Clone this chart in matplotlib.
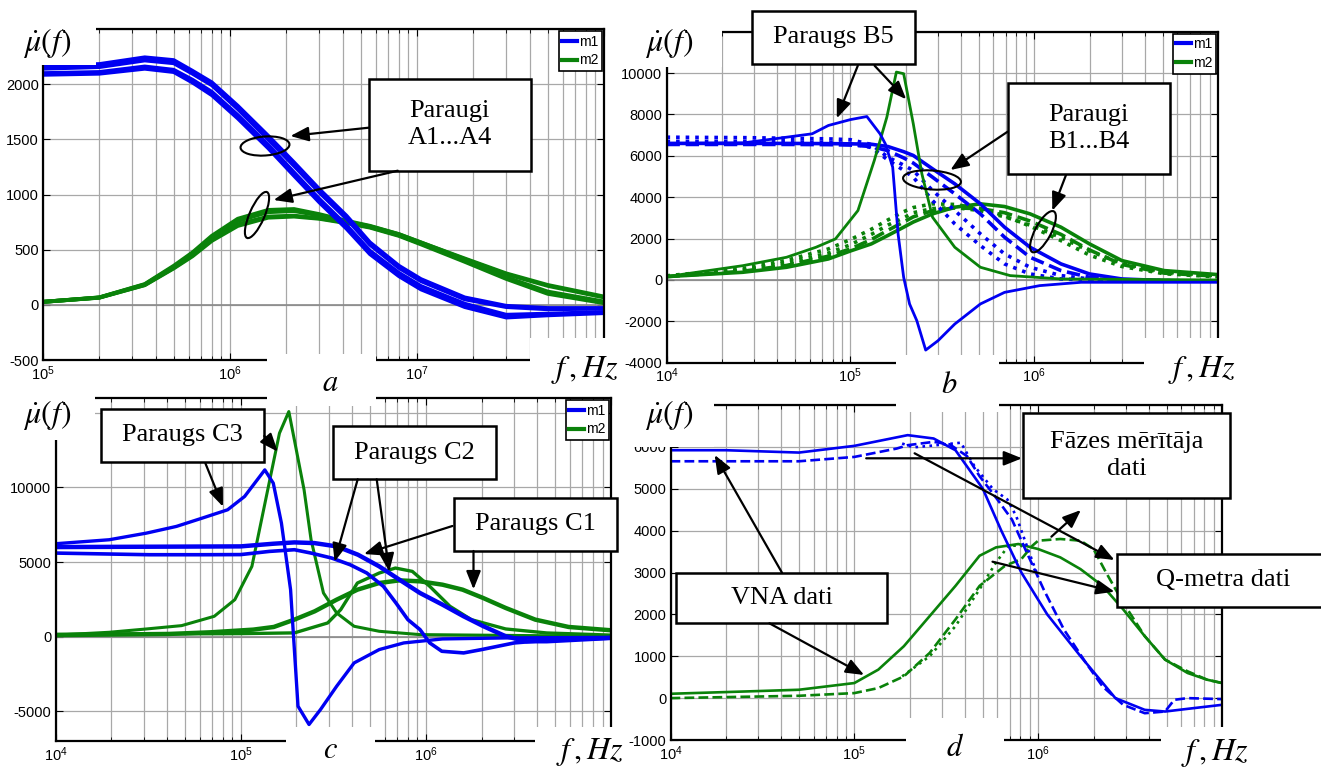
import numpy as np
import matplotlib
matplotlib.use("Agg")
import matplotlib.pyplot as plt
from matplotlib.patches import Rectangle, Ellipse
from matplotlib.ticker import LogLocator, NullFormatter

plt.rcParams["font.family"] = ["Liberation Sans", "DejaVu Sans"]
plt.rcParams["mathtext.fontset"] = "stix"
plt.rcParams["axes.unicode_minus"] = False

BLUE  = "#0000f2"
GREEN = "#0a820a"
W, H  = 1321, 769

# ---------------- panel a : Paraugi A1...A4 ----------------
A_F  = [1e5, 2e5, 3.5e5, 5e5, 6.3e5, 8e5, 1.1e6, 1.6e6, 2.2e6, 3e6,
        4.2e6, 5.6e6, 8e6, 1.05e7, 1.8e7, 3e7, 5e7, 1e8]
A1_M1 = [2168, 2182, 2243, 2218, 2121, 2016, 1804, 1532, 1291, 1049, 807, 566, 354, 233, 67, -9, -29, -29]
A2_M1 = [2140, 2155, 2215, 2190, 2095, 1990, 1775, 1500, 1260, 1020, 780, 545, 335, 215, 50, -20, -40, -35]
A3_M1 = [2100, 2110, 2160, 2130, 2040, 1930, 1720, 1450, 1200, 960, 720, 490, 290, 170, 10, -90, -80, -65]
A4_M1 = [2085, 2095, 2140, 2110, 2015, 1900, 1690, 1420, 1170, 930, 690, 460, 260, 140, -20, -115, -95, -75]
A1_M2 = [27, 67, 188, 354, 475, 626, 780, 860, 868, 822, 762, 716, 641, 566, 414, 278, 172, 67]
A2_M2 = [27, 67, 185, 345, 465, 610, 760, 840, 850, 810, 755, 712, 640, 565, 420, 285, 180, 75]
A3_M2 = [27, 65, 180, 335, 450, 590, 730, 800, 808, 785, 745, 705, 630, 555, 400, 250, 120, 30]
A4_M2 = [27, 65, 178, 330, 440, 580, 715, 790, 800, 780, 740, 700, 625, 548, 390, 235, 100, 15]

# ---------------- panel b : Paraugi B1...B4 + Paraugs B5 ----------------
B_F  = [1e4, 2.6e4, 4.5e4, 7.6e4, 1e5, 1.3e5, 1.6e5, 1.95e5, 2.2e5, 2.8e5,
        3.7e5, 5.1e5, 6.9e5, 9.5e5, 1.4e6, 2e6, 3e6, 5.1e6, 1e7]
B1_M1 = [6600, 6600, 6600, 6590, 6580, 6560, 6450, 6200, 6017, 5371, 4645, 3678, 2549, 1580, 774, 290, 48, -32, -60]
B2_M1 = [6550, 6550, 6550, 6540, 6520, 6450, 6250, 5900, 5650, 4968, 4162, 3194, 2065, 1097, 452, 129, 0, -40, -60]
B3_M1 = [6900, 6880, 6850, 6820, 6780, 6550, 5936, 5550, 5290, 4323, 3355, 2226, 1258, 613, 210, 48, 0, -30, -60]
B4_M1 = [6700, 6700, 6680, 6650, 6600, 6400, 5800, 5300, 4968, 3839, 2710, 1661, 774, 290, 48, 0, -20, -40, -60]
B1_M2 = [161, 371, 613, 1016, 1400, 1742, 2150, 2549, 2800, 3194, 3516, 3678, 3549, 3194, 2549, 1742, 936, 452, 258]
B2_M2 = [161, 420, 700, 1150, 1500, 1950, 2400, 2800, 3050, 3350, 3480, 3450, 3250, 2850, 2200, 1450, 750, 330, 180]
B3_M2 = [200, 550, 950, 1500, 1950, 2450, 2900, 3300, 3500, 3680, 3650, 3450, 3100, 2600, 1900, 1200, 650, 300, 150]
B4_M2 = [180, 480, 820, 1300, 1700, 2200, 2650, 3000, 3250, 3450, 3500, 3350, 3050, 2650, 2050, 1400, 800, 380, 200]

B5_M1_F = [1e4, 2.6e4, 4.5e4, 6.2e4, 7.6e4, 1e5, 1.23e5, 1.45e5, 1.55e5, 1.7e5, 1.82e5,
           1.95e5, 2.1e5, 2.3e5, 2.57e5, 3e5, 3.7e5, 5.1e5, 6.9e5, 1.07e6, 1.8e6, 1e7]
B5_M1   = [6600, 6620, 6900, 7065, 7468, 7750, 7900, 7065, 6580, 5450, 2200,
           130, -1160, -1970, -3390, -2935, -2130, -1160, -600, -275, -113, -113]
B5_M2_F = [1e4, 2.6e4, 4.5e4, 6.5e4, 8.3e4, 1.1e5, 1.35e5, 1.58e5, 1.78e5, 1.95e5,
           2.2e5, 2.45e5, 2.8e5, 3.7e5, 5.1e5, 7.4e5, 1.4e6, 1e7]
B5_M2   = [161, 690, 1097, 1580, 1984, 3355, 5775, 7870, 10049, 9970,
           7550, 5130, 3032, 1580, 613, 210, 48, 0]

# ---------------- panel c : Paraugs C1, C2, C3 ----------------
C3_M1_F = [1e4, 1.95e4, 3.1e4, 4.5e4, 6.2e4, 8.5e4, 1.05e5, 1.35e5, 1.5e5, 1.66e5, 1.86e5,
           1.95e5, 2.04e5, 2.34e5, 2.7e5, 3.3e5, 4.1e5, 5.6e5, 7.6e5, 1.23e6, 2.7e6, 1e7]
C3_M1   = [6228, 6495, 6940, 7390, 7946, 8504, 9397, 11180, 10290, 7611, 3147,
           -870, -4665, -5893, -4888, -3326, -1763, -870, -424, -156, -89, -50]
C3_M2_F = [1e4, 1.95e4, 3.1e4, 4.8e4, 7.2e4, 9.3e4, 1.15e5, 1.4e5, 1.62e5, 1.82e5,
           1.95e5, 2.2e5, 2.4e5, 2.8e5, 3.3e5, 4.1e5, 5.6e5, 9.3e5, 1e7]
C3_M2   = [100, 290, 513, 737, 1362, 2478, 4710, 9843, 13640, 15090,
           13190, 9843, 6495, 2924, 1585, 692, 357, 134, 20]
C2_M1_F = [1e4, 3.2e4, 6.3e4, 1e5, 1.43e5, 1.95e5, 2.4e5, 3.1e5, 3.9e5, 4.8e5, 5.9e5,
           6.9e5, 8e5, 9.3e5, 1.05e6, 1.22e6, 1.6e6, 2e6, 3e6, 4.5e6, 1e7]
C2_M1   = [5602, 5491, 5491, 5500, 5714, 5826, 5602, 5268, 4821, 4263, 3370,
           2254, 1138, 469, -424, -982, -1094, -870, -424, -246, -100]
C2_M2_F = [1e4, 1e5, 1.95e5, 2.95e5, 3.47e5, 4.27e5, 5.6e5, 6.85e5, 8.45e5,
           1.05e6, 1.35e6, 1.76e6, 2.7e6, 4.5e6, 1e7]
C2_M2   = [150, 200, 250, 915, 1808, 3594, 4263, 4598, 4375,
           3370, 2031, 1138, 513, 245, 100]
C1_M1_F = [1e4, 1e5, 1.5e5, 1.95e5, 2.5e5, 3.3e5, 4.3e5, 5.6e5, 7.2e5, 9.3e5,
           1.23e6, 1.6e6, 2.05e6, 2.7e6, 3.5e6, 4.5e6, 1e7]
C1_M1   = [6004, 6050, 6228, 6317, 6272, 6049, 5491, 4710, 3817, 2924,
           2143, 1362, 692, 22, -312, -312, -89]
C1_M2_F = [1e4, 4.1e4, 6.9e4, 1.17e5, 1.51e5, 1.95e5, 2.51e5, 3.3e5, 4.27e5, 5.6e5,
           7.2e5, 9.3e5, 1.23e6, 1.58e6, 2.04e6, 2.7e6, 3.9e6, 5.9e6, 1e7]
C1_M2   = [100, 179, 290, 469, 647, 1138, 1696, 2478, 3147, 3594,
           3772, 3705, 3482, 3147, 2589, 1920, 1138, 647, 424]

# ---------------- panel d : VNA / Q-metra / faze ----------------
D_VNA_M1_F = [1e4, 2e4, 5e4, 1e5, 1.95e5, 2.7e5, 3.55e5, 5e5, 6.3e5, 8.1e5,
              1.12e6, 1.7e6, 2.63e6, 3.8e6, 4.9e6, 6.5e6, 1e7]
D_VNA_M1   = [5920, 5920, 5864, 6024, 6280, 6200, 5920, 5000, 4000, 3000,
              2000, 1000, 0, -280, -320, -256, -160]
D_VNA_M2_F = [1e4, 2.6e4, 5e4, 1e5, 1.35e5, 1.86e5, 2.57e5, 3.55e5, 4.8e5, 5.9e5, 7.8e5,
              1e6, 1.32e6, 1.7e6, 2.24e6, 2.9e6, 3.8e6, 4.9e6, 6.5e6, 8.3e6, 1e7]
D_VNA_M2   = [104, 160, 200, 360, 680, 1240, 1960, 2680, 3400, 3600, 3680,
              3560, 3360, 3080, 2680, 2120, 1480, 920, 600, 440, 360]
D_Q_M1_F = [1e4, 5e4, 1e5, 1.7e5, 1.95e5, 2.7e5, 3.3e5, 4.1e5, 4.8e5, 6e5, 7.2e5,
            8.5e5, 1.07e6, 1.38e6, 1.82e6, 2.24e6, 2.9e6, 3.8e6, 4.9e6, 5.5e6, 6.5e6, 1e7]
D_Q_M1   = [5656, 5656, 5760, 5960, 6040, 6120, 6060, 5780, 5300, 4744, 4265,
            3560, 2600, 1640, 840, 280, -160, -360, -320, -40, 0, -24]
D_Q_M2_F = [1e4, 5e4, 1e5, 1.35e5, 1.86e5, 2.57e5, 3.55e5, 4.8e5, 6.6e5, 8.1e5, 9.3e5,
            1e6, 1.32e6, 1.7e6, 2e6, 2.34e6, 2.9e6, 3.8e6, 4.9e6, 6.5e6, 8.3e6, 1e7]
D_Q_M2   = [0, 56, 120, 240, 520, 1080, 1880, 2680, 3160, 3320, 3640,
            3760, 3800, 3760, 3560, 3000, 2280, 1480, 920, 640, 440, 360]
D_PH_M1_F = [1.82e5, 2.1e5, 2.8e5, 3.8e5, 4.5e5, 5.7e5, 6.8e5, 7.6e5, 8.9e5, 1e6]
D_PH_M1   = [6080, 5988, 6040, 6100, 5540, 4983, 4744, 4344, 3500, 2900]
D_PH_M2_F = [1.82e5, 2.57e5, 3.55e5, 4.8e5, 5.9e5, 6.9e5, 8.1e5, 9.1e5]
D_PH_M2   = [520, 1000, 1720, 2600, 3240, 3640, 3640, 3480]


fig = plt.figure(figsize=(W / 100, H / 100), dpi=100)


def make_axes(l, t, r, b, decades, ylim, yticks, hidden_y):
    """Axes placed by pixel box (left, top, right, bottom).
    Labels under the pasted-over corners of the original are left blank."""
    ax = fig.add_axes([l / W, 1 - b / H, (r - l) / W, (b - t) / H])
    ax.set_xscale("log")
    ax.set_xlim(10.0 ** decades[0], 10.0 ** decades[-1])
    ax.set_ylim(*ylim)
    ax.set_xticks([10.0 ** d for d in decades])
    ax.set_xticklabels([r"$\mathdefault{10^{%d}}$" % d for d in decades[:-1]] + [""])
    ax.set_yticks(yticks)
    ax.set_yticklabels(["" if v in hidden_y else str(v) for v in yticks])
    ax.xaxis.set_minor_locator(LogLocator(base=10, subs=np.arange(2, 10)))
    ax.xaxis.set_minor_formatter(NullFormatter())
    ax.grid(True, which="both", axis="x", color="#a8a8a8", lw=0.9)
    ax.grid(True, which="major", axis="y", color="#a8a8a8", lw=0.9)
    ax.set_axisbelow(True)
    ax.tick_params(which="both", direction="in", top=True, right=True,
                   labelsize=10.5, pad=3)
    ax.tick_params(which="major", length=5)
    ax.tick_params(which="minor", length=3)
    for s in ax.spines.values():
        s.set_linewidth(1.6)
    return ax


def add_legend(ax, h1, h2):
    leg = ax.legend([h1, h2], ["m1", "m2"], loc="upper right", fontsize=10,
                    handlelength=1.05, handletextpad=0.15, borderpad=0.25,
                    labelspacing=0.35, borderaxespad=0.15, fancybox=False,
                    framealpha=1, edgecolor="k")
    leg.get_frame().set_linewidth(1.2)
    for ln in leg.get_lines():
        ln.set_linewidth(3)


# ---- a ----
axa = make_axes(43, 29, 604, 360, [5, 6, 7, 8], (-500, 2500),
                list(range(-500, 2501, 500)), [2500])
axa.axhline(0, color="#8a8a8a", lw=1.2, zorder=1)
for v in (A1_M2, A2_M2, A3_M2, A4_M2):
    hg = axa.plot(A_F, v, color=GREEN, lw=2.8)[0]
for v in (A1_M1, A2_M1, A3_M1, A4_M1):
    hb = axa.plot(A_F, v, color=BLUE, lw=2.8)[0]
add_legend(axa, hb, hg)

# ---- b ----
axb = make_axes(666.5, 31.7, 1218, 362.7, [4, 5, 6, 7], (-4000, 12000),
                list(range(-4000, 12001, 2000)), [12000])
axb.axhline(0, color="#8a8a8a", lw=1.2, zorder=1)
styles = ["-", "--", ":", ":"]
for v, ls in zip((B1_M2, B2_M2, B3_M2, B4_M2), styles):
    hg = axb.plot(B_F, v, color=GREEN, lw=2.6, ls=ls)[0]
for v, ls in zip((B1_M1, B2_M1, B3_M1, B4_M1), styles):
    hb = axb.plot(B_F, v, color=BLUE, lw=2.6, ls=ls)[0]
axb.plot(B5_M2_F, B5_M2, color=GREEN, lw=2.0)
axb.plot(B5_M1_F, B5_M1, color=BLUE, lw=2.0)
add_legend(axb, axb.lines[5], axb.lines[1])

# ---- c ----
axc = make_axes(55.5, 398, 611, 741, [4, 5, 6, 7], (-7000, 16000),
                list(range(-5000, 15001, 5000)), [15000])
axc.axhline(0, color="#8a8a8a", lw=1.2, zorder=1)
axc.plot(C3_M2_F, C3_M2, color=GREEN, lw=2.2)
axc.plot(C2_M2_F, C2_M2, color=GREEN, lw=2.4)
hg = axc.plot(C1_M2_F, C1_M2, color=GREEN, lw=3.2)[0]
axc.plot(C3_M1_F, C3_M1, color=BLUE, lw=2.4)
axc.plot(C2_M1_F, C2_M1, color=BLUE, lw=2.6)
hb = axc.plot(C1_M1_F, C1_M1, color=BLUE, lw=3.2)[0]
add_legend(axc, hb, hg)

# ---- d ----
axd = make_axes(670.5, 405, 1222, 740, [4, 5, 6, 7], (-1000, 7000),
                list(range(-1000, 7001, 1000)), [7000])
axd.plot(D_VNA_M2_F, D_VNA_M2, color=GREEN, lw=1.9)
axd.plot(D_Q_M2_F, D_Q_M2, color=GREEN, lw=1.9, ls="--")
axd.plot(D_PH_M2_F, D_PH_M2, color=GREEN, lw=1.9, ls=":")
axd.plot(D_VNA_M1_F, D_VNA_M1, color=BLUE, lw=1.9)
axd.plot(D_Q_M1_F, D_Q_M1, color=BLUE, lw=1.9, ls="--")
axd.plot(D_PH_M1_F, D_PH_M1, color=BLUE, lw=1.9, ls=":")

# ---- overlay in pixel coordinates: white cut-outs, labels, boxes, arrows ----
ov = fig.add_axes([0, 0, 1, 1], zorder=10)
ov.set_xlim(0, W)
ov.set_ylim(H, 0)
ov.axis("off")

cutouts = [(0, 0, 96, 65), (267, 354, 376, 406), (530, 338, 621, 395),
           (615, 0, 722, 67), (896, 355, 999, 412), (1144, 338, W, 401),
           (0, 390, 95, 440), (286, 727, 375, H), (535, 727, 621, H),
           (615, 390, 714, 447), (906, 718, 1004, H), (1161, 727, W, H)]
for x0, y0, x1, y1 in cutouts:
    ov.add_patch(Rectangle((x0, y0), x1 - x0, y1 - y0, fc="white", ec="none", zorder=1))

MU = r"$\dot{\mu}(f)$"
FHZ = r"$f\,,Hz$"
for x, y, s in [(47, 43, MU), (669, 43, MU), (47, 415, MU), (669, 415, MU),
                (585, 370, FHZ), (1202, 370, FHZ), (590, 752, FHZ), (1215, 753, FHZ)]:
    ov.text(x, y, s, fontsize=23, ha="center", va="center", zorder=2)
for x, y, s in [(330, 383, r"$a$"), (949, 385, r"$b$"), (330, 750, r"$c$"), (955, 748, r"$d$")]:
    ov.text(x, y, s, fontsize=22, ha="center", va="center", zorder=2)

boxes = [(368.7, 79, 531, 170.7, "Paraugi\nA1...A4"),
         (751.7, 11, 914.6, 64, "Paraugs B5"),
         (1007.6, 82.7, 1170, 174.3, "Paraugi\nB1...B4"),
         (101, 409, 264.3, 461.7, "Paraugs C3"),
         (333.3, 426, 495.8, 479, "Paraugs C2"),
         (453.7, 497.7, 616.6, 551, "Paraugs C1"),
         (1022.8, 412.7, 1230.3, 497.7, "Fāzes mērītāja\ndati"),
         (1116.6, 554.3, 1330, 606.7, "Q-metra dati"),
         (676, 572.7, 887.3, 623.3, "VNA dati")]
for x0, y0, x1, y1, s in boxes:
    ov.add_patch(Rectangle((x0, y0), x1 - x0, y1 - y0, fc="white", ec="k", lw=1.8, zorder=3))
    ov.text((x0 + x1) / 2, (y0 + y1) / 2, s, fontsize=19, family="Liberation Serif",
            ha="center", va="center", linespacing=1.3, zorder=4)

arrows = [((368.7, 127.7), (290.4, 136)), ((397.7, 170.7), (273.6, 200)),
          ((857.8, 65.7), (836.8, 118.3)), ((874.6, 65.7), (906.2, 99.3)),
          ((1007.6, 131.7), (950.4, 170)), ((1066, 175), (1052.3, 210.7)),
          ((205.4, 463.3), (223, 506.7)), ((264.3, 436), (277.8, 451.7)),
          ((357.7, 479.3), (334.6, 561.7)), ((376.7, 479.3), (389.3, 571.7)),
          ((452.4, 526), (364, 554)), ((473.5, 551), (473.5, 589.3)),
          ((866.2, 458.3), (1022, 458.3)), ((1051.4, 536.7), (1080.9, 510)),
          ((914.6, 453.3), (1114.5, 560)), ((992.5, 561.7), (1114.5, 591.7)),
          ((782, 572.7), (714.7, 455)), ((769.4, 623.3), (864.1, 675))]
for tail, tip in arrows:
    ov.annotate("", xy=tip, xytext=tail, zorder=5,
                arrowprops=dict(arrowstyle="-|>,head_length=0.55,head_width=0.22",
                                mutation_scale=20, color="k", lw=1.6,
                                shrinkA=0, shrinkB=0))

for cx, cy, w, h, ang in [(265, 146, 49, 19, -4), (257, 215, 50, 15, 113.5),
                          (932, 180, 58, 19, 4), (1043, 231.7, 46, 16, 118)]:
    ov.add_patch(Ellipse((cx, cy), w, h, angle=ang, fc="none", ec="k", lw=1.5, zorder=5))

fig.savefig("out.png", dpi=100)
